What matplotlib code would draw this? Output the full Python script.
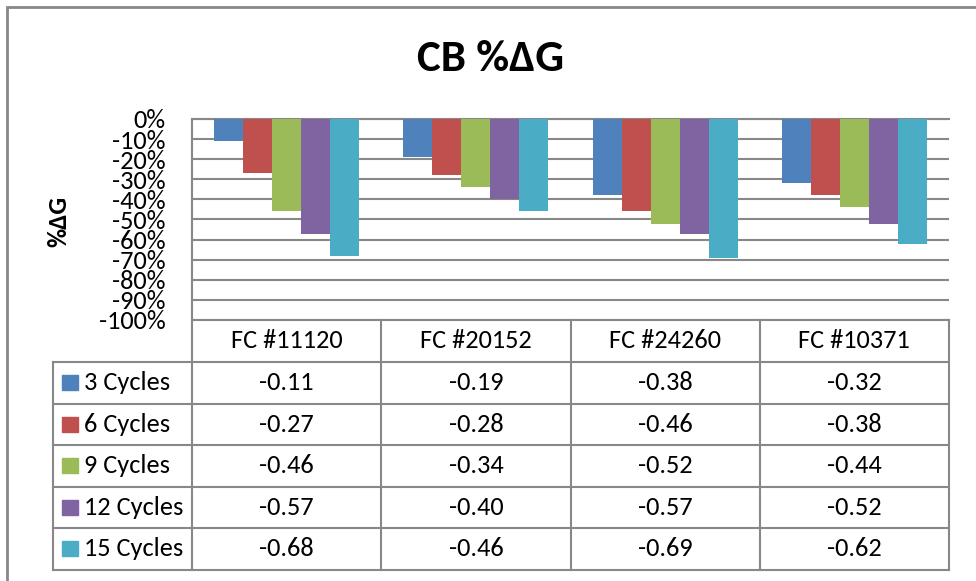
# CB %dG bar chart with data table (Excel style)
import numpy as np
import matplotlib
matplotlib.use('Agg')
import matplotlib.pyplot as plt
import matplotlib.transforms as mtransforms
from matplotlib.lines import Line2D
from matplotlib.patches import Rectangle

plt.rcParams['font.family'] = ['Carlito', 'Open Sans', 'DejaVu Sans']

units = ['FC #11120', 'FC #20152', 'FC #24260', 'FC #10371']
series = ['3 Cycles', '6 Cycles', '9 Cycles', '12 Cycles', '15 Cycles']
cyc3 = [-0.11, -0.19, -0.38, -0.32]
cyc6 = [-0.27, -0.28, -0.46, -0.38]
cyc9 = [-0.46, -0.34, -0.52, -0.44]
cyc12 = [-0.57, -0.40, -0.57, -0.52]
cyc15 = [-0.68, -0.46, -0.69, -0.62]
values = [cyc3, cyc6, cyc9, cyc12, cyc15]
colors = ['#4F81BD', '#C0504D', '#9BBB59', '#8064A2', '#4BACC6']

gray = '#888888'
W, H = 976, 581
fig = plt.figure(figsize=(W / 100, H / 100), dpi=100)


def fx(px):
    return px / W


def fy(py):
    return 1 - py / H


ax = fig.add_axes([fx(192), fy(320), fx(949) - fx(192), fy(119) - fy(320)])
x = np.arange(len(units))
bw = 29 / ((949 - 192) / len(units))
offsets = (np.arange(len(series)) - (len(series) - 1) / 2) * bw
for vals, off, c in zip(values, offsets, colors):
    ax.bar(x + off, vals, bw, color=c, zorder=3)

ax.set_xlim(-0.5, len(units) - 0.5)
ax.set_ylim(-1, 0)
ax.set_yticks(np.linspace(-1, 0, 11))
ax.yaxis.set_major_formatter(lambda v, p: f'{int(round(v * 100))}%')
ax.set_xticks([])
ax.tick_params(axis='y', length=0, pad=19, labelsize=19)
ax.grid(axis='y', color=gray, lw=1.5, zorder=0)
ax.spines['right'].set_visible(False)
for s in ['left', 'top', 'bottom']:
    ax.spines[s].set_color(gray)
    ax.spines[s].set_linewidth(1.5)

fig.text(fx(491), fy(59), 'CB %ΔG', ha='center', va='center',
         fontsize=32.5, fontweight='bold')
fig.text(fx(59), fy(221), '%ΔG', ha='center', va='center', rotation=90,
         fontsize=19, fontweight='bold')

# data table under the plot
blend = mtransforms.blended_transform_factory(ax.transData, fig.transFigure)
rows = [320, 362, 403.5, 445, 486.5, 528, 569.5]
lw = 1.5
for r in rows[1:]:
    fig.add_artist(Line2D([fx(53), fx(949)], [fy(r), fy(r)], color=gray, lw=lw,
                          transform=fig.transFigure))
fig.add_artist(Line2D([fx(53), fx(53)], [fy(rows[1]), fy(rows[-1])], color=gray,
                      lw=lw, transform=fig.transFigure))
for b in np.arange(len(units) + 1) - 0.5:
    fig.add_artist(Line2D([b, b], [fy(rows[0]), fy(rows[-1])], color=gray, lw=lw,
                          transform=blend))

for i, u in enumerate(units):
    fig.text(i, fy((rows[0] + rows[1]) / 2), u, transform=blend,
             ha='center', va='center', fontsize=19)
for j, (name, vals, c) in enumerate(zip(series, values, colors)):
    yc = fy((rows[j + 1] + rows[j + 2]) / 2)
    fig.add_artist(Rectangle((fx(62), yc - 7.5 / H), 16 / W, 15 / H, color=c,
                             transform=fig.transFigure))
    fig.text(fx(84), yc, name, ha='left', va='center', fontsize=19)
    for i, v in enumerate(vals):
        fig.text(i, yc, f'{v:.2f}', transform=blend,
                 ha='center', va='center', fontsize=19)

# outer chart border (cropped on right and bottom)
fig.add_artist(Rectangle((fx(7), fy(700)), 2, fy(7) - fy(700), fill=False,
                         edgecolor=gray, lw=2, transform=fig.transFigure))

fig.savefig('out.png', dpi=100)
